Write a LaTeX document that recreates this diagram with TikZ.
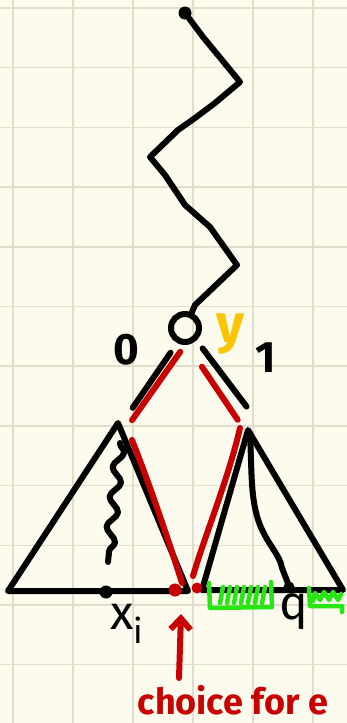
\documentclass[tikz,border=0pt]{standalone}
\usepackage{fontspec}
\setmainfont{Fira Sans}
\usetikzlibrary{arrows.meta, calc, decorations.pathmorphing}
\definecolor{paper}{RGB}{253,251,238}
\definecolor{gridline}{RGB}{224,221,205}
\definecolor{myred}{RGB}{200,0,0}
\definecolor{myyellow}{RGB}{255,196,0}
\definecolor{mygreen}{RGB}{40,230,20}

\begin{document}
\begin{tikzpicture}[x=1pt, y=-1pt,
    edge/.style={line width=6pt, line cap=round, line join=round},
    rededge/.style={edge, myred},
    greenmark/.style={line width=4.5pt, line cap=round, line join=round, mygreen},
    dot/.style={circle, fill, inner sep=0pt, minimum size=13pt},
    vertex/.style={circle, draw, line width=6pt, inner sep=0pt, minimum size=28pt},
    label/.style={font=\fontsize{44}{46}\selectfont\bfseries}]
  % Paper and grid
  \fill[paper] (0,0) rectangle (347,723);
  \useasboundingbox (0,0) rectangle (347,723);
  \foreach \gx in {13,73,...,313}
    \draw[gridline, line width=1.5pt] (\gx,0) -- (\gx,723);
  \foreach \k in {0,...,11}
    \draw[gridline, line width=1.5pt] (0,8+59.7*\k) -- (347,8+59.7*\k);
  % Path from the root down to v
  \node[dot] (top) at (185,13) {};
  \node[vertex] (v) at (185,328) {};
  \draw[edge] (top) -- (203,37) -- (222,60) -- (240,82) -- (215,103) -- (195,118)
    -- (178,130) -- (150,157) -- (165,175) -- (185,205) -- (210,227) -- (237,265)
    -- (195,305) -- (v);
  \node[font=\fontsize{54}{56}\selectfont\bfseries, myyellow] (yl) at (230,334) {y};
  \node[label] (zero) at (126,350) {0};
  \node[label] (one) at (266,358) {1};
  % Left subtree
  \coordinate (lt) at (118,423);
  \coordinate (ll) at (8,591);
  \coordinate (lr) at (188,591);
  \draw[edge] (lt) -- (ll) -- (lr) -- cycle;
  \draw[edge, decorate, decoration={snake, amplitude=5pt, segment length=30pt}]
    (120,443) -- (108,562);
  % Right subtree
  \coordinate (rt) at (248,430);
  \coordinate (rl) at (202,590);
  \coordinate (rr) at (343,590);
  \draw[edge] (rt) -- (rl) -- (rr) -- cycle;
  \draw[edge] (250,436) .. controls (252,470) and (250,500) .. (260,525)
    .. controls (268,545) and (280,555) .. (282,568) -- (289,586);
  % Edges out of v
  \draw[edge] ($(v)!0.26!(lt)+(3,0)$) -- ($(v)!0.84!(lt)+(4,0)$);
  \draw[edge] ($(v)!0.2!(rt)+(5,0)$) -- ($(v)!0.77!(rt)+(13,0)$);
  \draw[rededge] ($(v)!0.25!(lt)+(12,0)$) -- ($(v)!0.97!(lt)+(12,0)$);
  \draw[rededge] ($(v)!0.38!(rt)+(-7,0)$) -- ($(v)!0.9!(rt)+(-4,0)$);
  % Red paths down to the leaves
  \draw[rededge] (132,440) .. controls (150,485) and (170,545) .. (182,583);
  \draw[rededge] (240,428) .. controls (228,480) and (205,535) .. (193,576);
  \node[dot, myred, minimum size=13pt] (el) at (175,590) {};
  \node[dot, myred, minimum size=11pt] (er) at (197,588) {};
  % Leaves
  \node[dot] (xi) at (106,592) {};
  \node[dot, minimum size=11pt] (q) at (289,587) {};
  \node[font=\fontsize{48}{50}\selectfont] (xil) at (127,624)
    {x\raisebox{-0.3em}{\fontsize{34}{36}\selectfont i}};
  \node[font=\fontsize{48}{50}\selectfont] (ql) at (294,612) {q};
  % Green hatched ranges
  \draw[greenmark] (209,583) -- (210,608) -- (272,607) -- (271,582);
  \foreach \hx in {222,229,236,243,250,257,264}
    \draw[greenmark] (\hx-2,603) -- (\hx+1,587);
  \draw[greenmark] (309,588) -- (310,606) -- (342,606) -- (342,612);
  \draw[greenmark] (313,601) -- (315,593) -- (320,600) -- (324,592) -- (329,600)
    -- (333,592) -- (338,600) -- (341,594);
  % Choice label
  \node[font=\fontsize{36}{38}\selectfont\bfseries, myred] (choice) at (233,700) {choice for e};
  \coordinate (pick) at (181,614);
  \draw[rededge, -{Straight Barb[length=11pt, width=20pt]}] (179,678) -- (pick);
\end{tikzpicture}
\end{document}
